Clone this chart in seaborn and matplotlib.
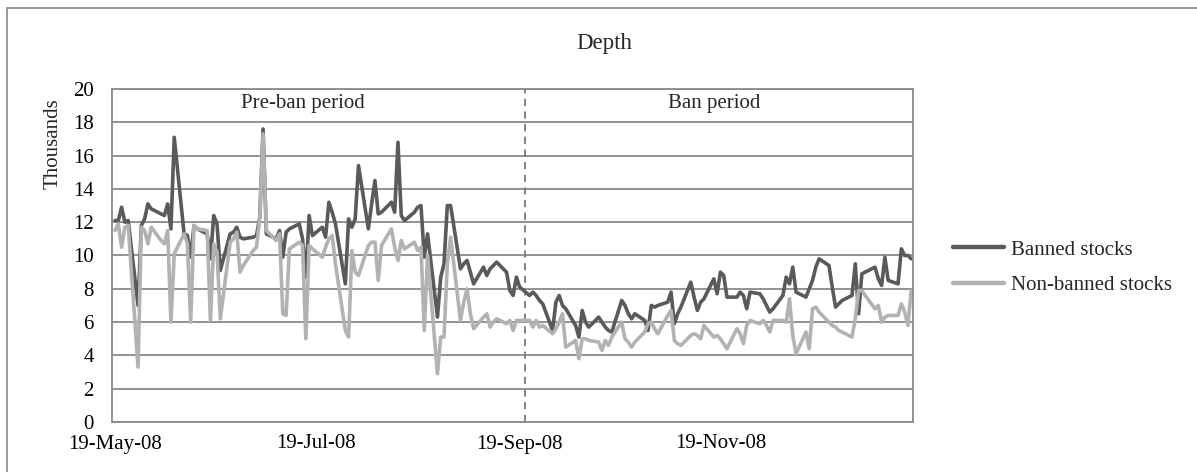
import numpy as np
import pandas as pd
import matplotlib
matplotlib.use("Agg")
import matplotlib.pyplot as plt
import matplotlib.dates as mdates
from matplotlib.patches import Rectangle
import seaborn as sns

# ---------------- data (thousands) ----------------
series_names = ["Banned stocks", "Non-banned stocks"]
dates = pd.bdate_range("2008-05-19", "2009-01-16")

banned = [
    12.1, 12.1, 12.9, 12.0, 12.1,
    7.0, 11.8, 12.2, 13.1, 12.8,
    12.5, 12.4, 13.1, 11.6, 17.1,
    11.3, 11.2, 9.9, 11.8, 11.6,
    11.3, 9.8, 12.4, 11.9, 9.1,
    11.3, 11.4, 11.7, 11.1, 11.0,
    11.1, 11.2, 12.3, 17.6, 11.3,
    11.0, 11.5, 9.9, 11.4, 11.6,
    11.9, 11.0, 8.7, 12.4, 11.2,
    11.7, 11.1, 13.2, 12.6, 11.9,
    8.3, 12.2, 11.7, 12.2, 15.4,
    11.6, 13.1, 14.5, 12.5, 12.6,
    13.2, 12.6, 16.8, 12.4, 12.1,
    12.6, 12.9, 13.0, 9.9, 11.3,
    6.3, 8.7, 9.5, 13.0, 13.0,
    9.2, 9.5, 9.7, 9.0, 8.3,
    9.3, 8.8, 9.2, 9.4, 9.6,
    9.0, 7.9, 7.6, 8.7, 8.1,
    7.6, 7.8, 7.6, 7.3, 7.1,
    5.5, 7.2, 7.6, 7.0, 6.8,
    5.8, 5.1, 6.7, 6.0, 5.7,
    6.3, 6.0, 5.7, 5.5, 5.4,
    7.3, 7.0, 6.5, 6.2, 6.5,
    6.1, 5.5, 7.0, 6.9, 7.0,
    7.2, 7.8, 5.9, 6.5, 6.9,
    8.4, 7.5, 6.7, 7.2, 7.4,
    8.6, 7.7, 9.0, 8.8, 7.5,
    7.5, 7.8, 7.6, 6.8, 7.8,
    7.7, 7.4, 7.0, 6.6, 6.8,
    7.6, 8.7, 8.3, 9.3, 7.8,
    7.5, 8.0, 8.5, 9.3, 9.8,
    9.4, 8.1, 6.9, 7.1, 7.3,
    7.6, 9.5, 6.5, 8.9, 9.0,
    9.3, 8.6, 8.2, 9.9, 8.5,
    8.3, 10.4, 10.0, 10.0, 9.8,
]

non_banned = [
    11.5, 11.9, 10.5, 11.7, 11.8,
    3.3, 11.7, 11.5, 10.7, 11.7,
    10.9, 10.7, 11.5, 6.0, 10.1,
    11.3, 10.7, 6.0, 11.8, 11.6,
    11.5, 6.1, 10.7, 10.2, 6.2,
    10.8, 11.0, 11.4, 9.0, 9.4,
    10.3, 10.5, 12.3, 17.3, 11.5,
    10.9, 11.3, 6.5, 6.4, 10.4,
    10.8, 10.6, 5.0, 10.6, 10.4,
    9.9, 10.5, 11.0, 11.2, 9.5,
    5.5, 5.1, 10.3, 9.0, 8.8,
    10.6, 10.8, 10.8, 8.5, 10.6,
    11.6, 10.5, 9.7, 10.9, 10.4,
    10.8, 10.3, 10.5, 5.5, 10.0,
    2.9, 5.1, 5.1, 9.5, 11.1,
    6.1, 7.2, 8.0, 6.5, 5.6,
    6.3, 6.5, 5.7, 6.0, 6.2,
    5.9, 6.1, 5.5, 6.1, 6.1,
    6.1, 5.7, 6.1, 5.7, 5.8,
    5.3, 5.6, 6.0, 6.5, 4.5,
    4.9, 3.8, 5.0, 5.0, 4.9,
    4.8, 4.3, 4.9, 4.6, 5.1,
    6.0, 5.0, 4.8, 4.5, 4.8,
    5.4, 5.9, 6.0, 5.6, 5.3,
    6.4, 6.7, 4.9, 4.7, 4.6,
    5.2, 5.3, 5.2, 5.0, 5.8,
    5.1, 5.2, 5.0, 4.7, 4.4,
    5.6, 5.3, 4.7, 5.8, 6.1,
    5.9, 6.1, 5.8, 5.4, 6.1,
    6.1, 6.0, 7.4, 5.2, 4.1,
    5.4, 4.4, 6.8, 6.9, 6.6,
    6.0, 5.8, 5.7, 5.5, 5.4,
    5.1, 6.2, 7.9, 7.9, 7.6,
    6.8, 7.0, 6.0, 6.3, 6.4,
    6.4, 7.1, 6.6, 5.8, 7.9,
]

y_ticks = [0, 2, 4, 6, 8, 10, 12, 14, 16, 18, 20]
tick_dates = ["2008-05-19", "2008-07-19", "2008-09-19", "2008-11-19"]
ban_start = "2008-09-20 14:00"
period_labels = ["Pre-ban period", "Ban period"]
period_label_dates = ["2008-07-15", "2008-11-17"]

# ---------------- styling ----------------
sns.set_theme(style="white")
plt.rcParams["font.family"] = ["Liberation Serif", "DejaVu Serif"]

GRID = "#8a8a8a"
DARK = "#5a5a5a"
LIGHT = "#b2b2b2"

df = pd.DataFrame({
    "date": list(dates) * 2,
    "value": banned + non_banned,
    "series": [series_names[0]] * len(dates) + [series_names[1]] * len(dates),
})

W, H = 1197, 472
fig = plt.figure(figsize=(W / 100, H / 100), dpi=100)
left, right, top, bottom = 112, 913, 89, 422
ax = fig.add_axes([left / W, 1 - bottom / H, (right - left) / W, (bottom - top) / H])

sns.lineplot(data=df, x="date", y="value", hue="series", hue_order=series_names,
             palette=[DARK, LIGHT], linewidth=2.6, ax=ax, sort=False,
             estimator=None, legend=True)

ax.set_ylim(0, 20)
ax.set_yticks(y_ticks)
ax.set_xlim(pd.Timestamp("2008-05-18 02:00"), pd.Timestamp("2009-01-16 13:00"))
ax.set_xticks([pd.Timestamp(t) for t in tick_dates])
ax.xaxis.set_major_formatter(mdates.DateFormatter("%d-%b-%y"))
ax.set_xlabel("")
ax.set_ylabel("")
ax.yaxis.grid(True, color=GRID, linewidth=1.3)
ax.xaxis.grid(False)
ax.set_axisbelow(True)
for sp in ax.spines.values():
    sp.set_color(GRID)
    sp.set_linewidth(1.3)
ax.tick_params(axis="y", length=0, pad=13, labelsize=15, colors="black")
ax.tick_params(axis="x", length=0, pad=9, labelsize=15, colors="black")

ax.axvline(pd.Timestamp(ban_start), color="#7a7a7a", linewidth=1.3,
           linestyle=(0, (4, 3)), zorder=1)

for lab, d in zip(period_labels, period_label_dates):
    ax.text(pd.Timestamp(d), 19.1, lab, ha="center", va="center", fontsize=15)

leg = ax.legend(loc="center left", bbox_to_anchor=(953 / W, 1 - 267.5 / H),
                bbox_transform=fig.transFigure, frameon=False, fontsize=15,
                handlelength=2.45, handletextpad=0.35, labelspacing=0.75,
                borderpad=0, borderaxespad=0)
for line in leg.get_lines():
    line.set_linewidth(3.2)

fig.text(604 / W, 1 - 43 / H, "Depth", ha="center", va="center", fontsize=16.5)
fig.text(53 / W, 1 - 144 / H, "Thousands", ha="center", va="center",
         rotation=90, fontsize=15)

fig.patches.append(Rectangle((7 / W, -0.1), 1.2, 1 - 8 / H + 0.1,
                             transform=fig.transFigure, fill=False,
                             edgecolor="#8a8a8a", linewidth=1.2, zorder=-1))

fig.savefig("out.png", dpi=100, facecolor="white")
